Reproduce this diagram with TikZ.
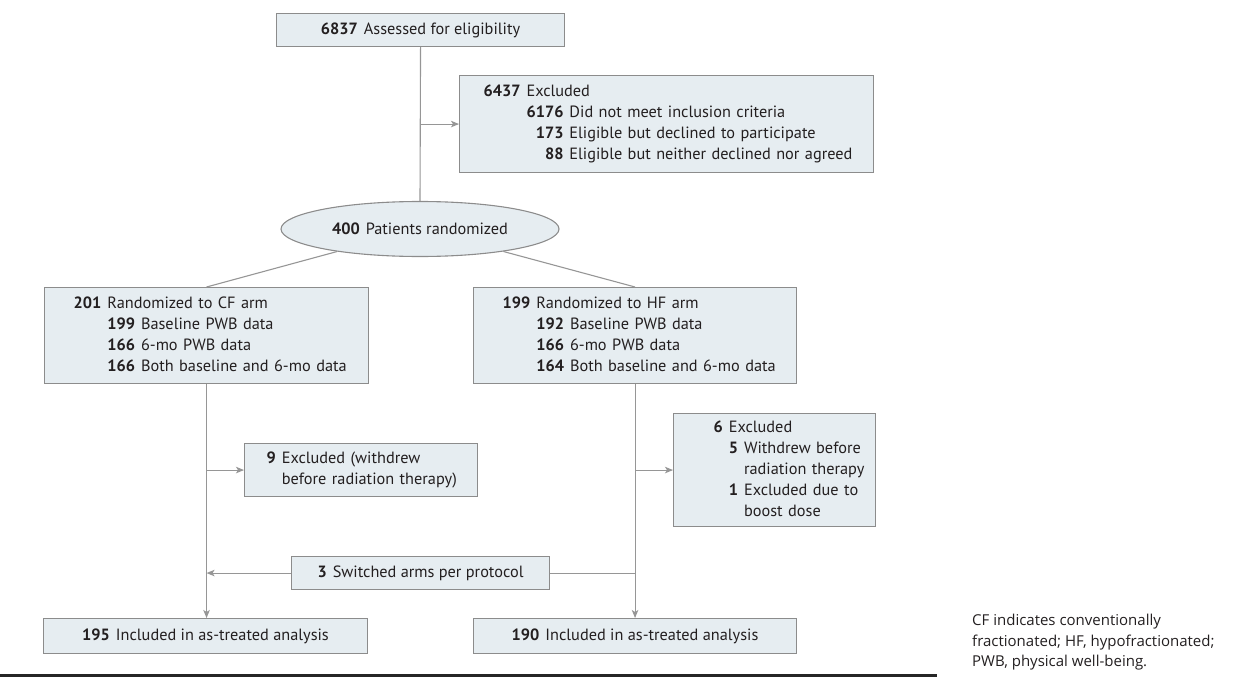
\documentclass[tikz,border=0pt]{standalone}
\usepackage{fontspec}
\setmainfont{PT Sans}
\newfontfamily\notefont{Open Sans}
\usetikzlibrary{arrows.meta,shapes.geometric}
\definecolor{boxfill}{RGB}{230,237,241}
\definecolor{boxline}{RGB}{140,140,140}
\definecolor{connc}{RGB}{150,150,150}
\definecolor{txt}{RGB}{35,31,32}
\begin{document}
\begin{tikzpicture}[x=1pt,y=-1pt,
  every node/.style={inner sep=0pt, text=txt},
  box/.style={draw=boxline, fill=boxfill, line width=1.1pt, font=\fontsize{16.3}{21}\selectfont},
  lbox/.style={box, anchor=north west, align=left},
  cbox/.style={box, anchor=north west, align=center},
  conn/.style={draw=connc, line width=1.1pt},
  arr/.style={conn, -{Stealth[length=8pt,width=6.5pt,inset=2pt]}},
]
\useasboundingbox (0,0) rectangle (1242,677);

\node[cbox, minimum width=288, minimum height=33] (assess) at (276,13)
  {\textbf{6837}\hspace{6pt}Assessed for eligibility};

\node[lbox, text width=366, inner xsep=24, minimum height=97] (excl) at (459,75) {%
\begin{tabular}{@{}r@{\hspace{6pt}}r@{\hspace{6pt}}l@{}}
\textbf{6437} & \multicolumn{2}{@{}l@{}}{Excluded}\\
 & \textbf{6176} & Did not meet inclusion criteria\\
 & \textbf{173} & Eligible but declined to participate\\
 & \textbf{88} & Eligible but neither declined nor agreed
\end{tabular}};

\node[box, ellipse, minimum width=278, minimum height=55] (rand) at (420,229)
  {\textbf{400}\hspace{6pt}Patients randomized};

\node[lbox, text width=266, inner xsep=29, minimum height=96] (cf) at (44,287) {%
\begin{tabular}{@{}r@{\hspace{6pt}}r@{\hspace{6pt}}l@{}}
\textbf{201} & \multicolumn{2}{@{}l@{}}{Randomized to CF arm}\\
 & \textbf{199} & Baseline PWB data\\
 & \textbf{166} & 6-mo PWB data\\
 & \textbf{166} & Both baseline and 6-mo data
\end{tabular}};

\node[lbox, text width=265, inner xsep=29, minimum height=96] (hf) at (473,287) {%
\begin{tabular}{@{}r@{\hspace{6pt}}r@{\hspace{6pt}}l@{}}
\textbf{199} & \multicolumn{2}{@{}l@{}}{Randomized to HF arm}\\
 & \textbf{192} & Baseline PWB data\\
 & \textbf{166} & 6-mo PWB data\\
 & \textbf{164} & Both baseline and 6-mo data
\end{tabular}};

\node[lbox, text width=189, inner xsep=22, minimum height=53] (cfex) at (244,443) {%
\begin{tabular}{@{}r@{\hspace{6pt}}l@{}}
\textbf{9} & Excluded (withdrew\\
 & before radiation therapy)
\end{tabular}};

\node[lbox, text width=122, inner xsep=40, minimum height=113] (hfex) at (673,413) {%
\begin{tabular}{@{}r@{\hspace{6pt}}r@{\hspace{6pt}}l@{}}
\textbf{6} & \multicolumn{2}{@{}l@{}}{Excluded}\\
 & \textbf{5} & Withdrew before\\
 & & radiation therapy\\
 & \textbf{1} & Excluded due to\\
 & & boost dose
\end{tabular}};

\node[cbox, minimum width=258, minimum height=33] (sw) at (291,556)
  {\textbf{3}\hspace{6pt}Switched arms per protocol};

\node[cbox, minimum width=324, minimum height=35] (inc1) at (43,618)
  {\textbf{195}\hspace{6pt}Included in as-treated analysis};
\node[cbox, minimum width=323, minimum height=35] (inc2) at (473,618)
  {\textbf{190}\hspace{6pt}Included in as-treated analysis};

\node[font=\notefont\fontsize{15}{20.5}\selectfont, align=left, anchor=north west] (note) at (972,614)
  {CF indicates conventionally\\fractionated; HF, hypofractionated;\\PWB, physical well-being.};

\draw[conn] (assess.south) -- (rand.north);
\draw[arr] (assess.south |- excl.west) -- (excl.west);
\draw[conn] (rand) -- (cf.north);
\draw[conn] (rand) -- (hf.north);
\draw[arr] (cf.south) -- (cf.south |- inc1.north);
\draw[arr] (cf.south |- cfex.west) -- (cfex.west);
\draw[arr] (hf.south) -- (hf.south |- inc2.north);
\draw[arr] (hf.south |- hfex.west) -- (hfex.west);
\draw[conn] (hf.south |- sw.east) -- (sw.east);
\draw[arr] (sw.west) -- (cf.south |- sw.west);

\draw[line width=2.5pt, black!85] (0,675.5) -- (937,675.5);
\end{tikzpicture}
\end{document}
